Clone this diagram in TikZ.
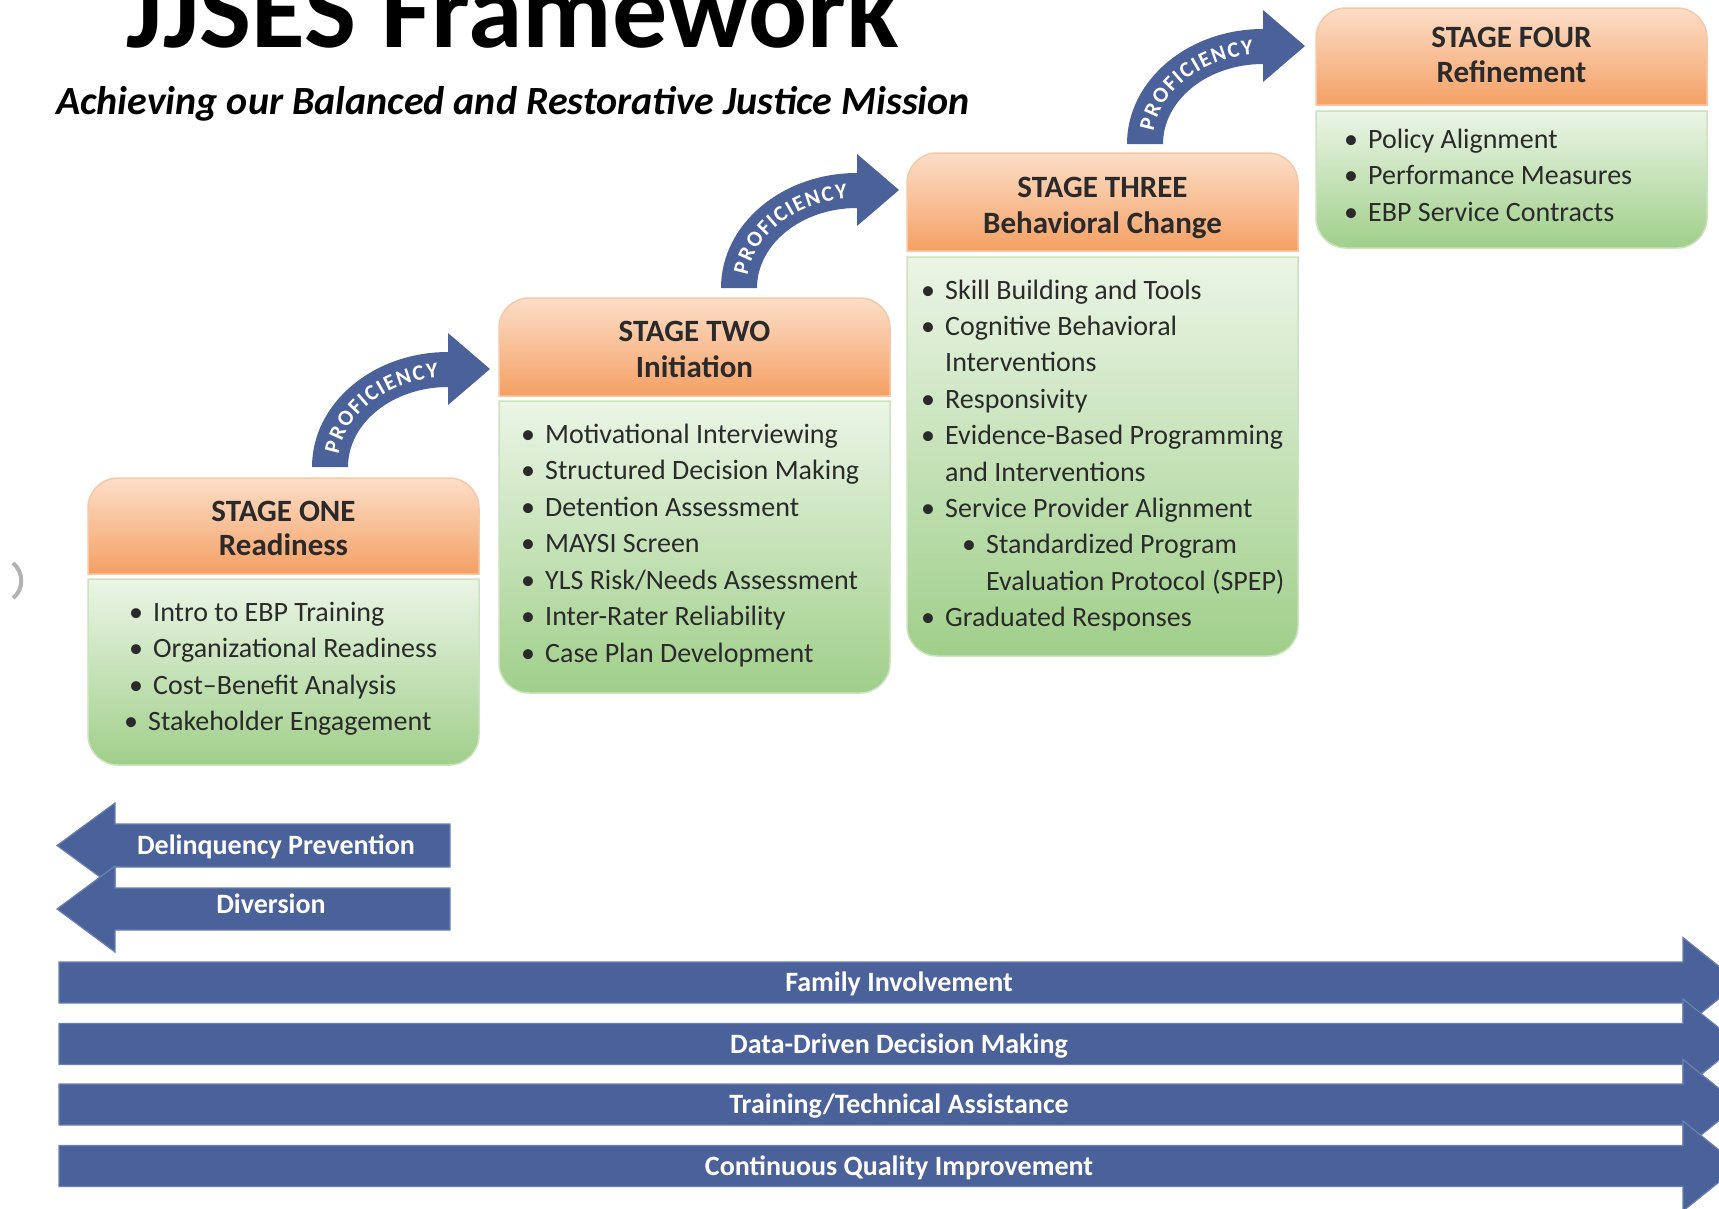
\documentclass[tikz,border=0pt]{standalone}
\usepackage{fontspec}
\setmainfont{Carlito}
\usetikzlibrary{decorations.text}
\definecolor{arrowblue}{HTML}{4A6199}
\definecolor{arrowedge}{HTML}{6A80B2}
\definecolor{orTop}{HTML}{FCDEC8}
\definecolor{orBot}{HTML}{F4A064}
\definecolor{orEdge}{HTML}{F8C8A6}
\definecolor{grTop}{HTML}{EBF5E6}
\definecolor{grBot}{HTML}{A0CF8A}
\definecolor{grEdge}{HTML}{CBE4BE}
\definecolor{txt}{HTML}{2A2A2A}
\tikzset{
  hdr/.style={anchor=base, inner sep=0pt, text=txt, font=\fontsize{31}{31}\selectfont\bfseries},
  itm/.style={anchor=base west, inner sep=0pt, text=txt, font=\fontsize{28}{28}\selectfont},
  bandtext/.style={anchor=base, inner sep=0pt, text=white, font=\fontsize{28}{28}\selectfont\bfseries},
  bluearrow/.style={fill=arrowblue, draw=arrowedge, line width=1.2pt},
  orhead/.style={top color=orTop, bottom color=orBot, draw=orEdge, line width=1.5pt},
  grbody/.style={top color=grTop, bottom color=grBot, draw=grEdge, line width=1.5pt},
}
\newcommand\bul{\makebox[24pt][l]{•}}
% #1 left x, #2 top, #3 orange bottom, #4 green top, #5 bottom
\newcommand\stagebox[5]{%
  \path[orhead] (#1,#3) -- (#1,{#2+30}) arc[start angle=180,end angle=270,radius=30]
     -- ({#1+391-30},#2) arc[start angle=270,end angle=360,radius=30] -- ({#1+391},#3) -- cycle;
  \path[grbody] (#1,#4) -- ({#1+391},#4) -- ({#1+391},{#5-30}) arc[start angle=0,end angle=90,radius=30]
     -- ({#1+30},#5) arc[start angle=90,end angle=180,radius=30] -- cycle;
}
% curved PROFICIENCY arrow, #1,#2 = centre of the quarter ellipse
\newcommand\profarrow[2]{%
  \path[fill=arrowblue] ({#1-136},#2) .. controls ({#1-136},{#2-63.5}) and ({#1-75.1},{#2-115}) .. (#1,{#2-115})
     -- (#1,{#2-134}) -- ({#1+42},{#2-98}) -- (#1,{#2-62}) -- (#1,{#2-80})
     .. controls ({#1-55.2},{#2-80}) and ({#1-100},{#2-44.2}) .. ({#1-100},#2) -- cycle;
  \path[decorate, decoration={text along path, text color=white, text align={fit to path},
     text={|\fontsize{22}{22}\selectfont\bfseries|PROFICIENCY}}]
     ({#1+110.5*cos(188)},{#2+90*sin(188)}) arc[start angle=188,end angle=265,x radius=110.5,y radius=90];
}
% long right arrow: #1 centre y, #2 name, #3 label
\newcommand\longarrow[3]{%
  \path[bluearrow] (59,{#1-20.5}) -- (1683,{#1-20.5}) -- (1683,{#1-45}) -- (1739,#1) -- (1683,{#1+45}) -- (1683,{#1+20.5}) -- (59,{#1+20.5}) -- cycle;
  \node[bandtext] (#2) at (899,{#1+9}) {#3};
}
\begin{document}
\begin{tikzpicture}[x=1pt,y=-1pt]
\useasboundingbox (0,0) rectangle (1719,1208);
\fill[white] (0,0) rectangle (1719,1208);

% title
\node[anchor=base, inner sep=0pt, font=\fontsize{110}{110}\selectfont\bfseries] (title) at (513,47) {JJSES Framework};
\node[anchor=base, inner sep=0pt, font=\fontsize{40}{40}\selectfont\bfseries\itshape] (subtitle) at (513,114) {Achieving our Balanced and Restorative Justice Mission};

% stray fragment at left edge
\draw[gray!60, line width=4pt] (13,563) .. controls (24,572) and (24,590) .. (13,598);

% stage boxes
\stagebox{88}{478}{574}{579}{765}
\stagebox{499}{298}{396}{401}{693}
\stagebox{907}{153}{251}{257}{656}
\stagebox{1316}{8}{105}{111}{248}

% proficiency arrows
\coordinate (pa1) at (448,467);
\coordinate (pa2) at (857,288);
\coordinate (pa3) at (1263,144);
\profarrow{448}{467}
\profarrow{857}{288}
\profarrow{1263}{144}

% stage one
\node[hdr] (s1t) at (283.5,521) {STAGE ONE};
\node[hdr] (s1n) at (283.5,555) {Readiness};
\node[itm] (s1a) at (129,621) {\bul Intro to EBP Training};
\node[itm] (s1b) at (129,657.5) {\bul Organizational Readiness};
\node[itm] (s1c) at (129,694) {\bul Cost--Benefit Analysis};
\node[itm] (s1d) at (124,730.5) {\bul Stakeholder Engagement};

% stage two
\node[hdr] (s2t) at (694.5,341) {STAGE TWO};
\node[hdr] (s2n) at (694.5,377) {Initiation};
\node[itm] (s2a) at (521,443) {\bul Motivational Interviewing};
\node[itm] (s2b) at (521,479.5) {\bul Structured Decision Making};
\node[itm] (s2c) at (521,516) {\bul Detention Assessment};
\node[itm] (s2d) at (521,552.5) {\bul MAYSI Screen};
\node[itm] (s2e) at (521,589) {\bul YLS Risk/Needs Assessment};
\node[itm] (s2f) at (521,625.5) {\bul Inter-Rater Reliability};
\node[itm] (s2g) at (521,662) {\bul Case Plan Development};

% stage three
\node[hdr] (s3t) at (1102.5,197) {STAGE THREE};
\node[hdr] (s3n) at (1102.5,233) {Behavioral Change};
\node[itm] (s3a) at (921,299) {\bul Skill Building and Tools};
\node[itm] (s3b) at (921,335.4) {\bul Cognitive Behavioral};
\node[itm] (s3c) at (945,371.8) {Interventions};
\node[itm] (s3d) at (921,408.2) {\bul Responsivity};
\node[itm] (s3e) at (921,444.6) {\bul Evidence-Based Programming};
\node[itm] (s3f) at (945,481) {and Interventions};
\node[itm] (s3g) at (921,517.4) {\bul Service Provider Alignment};
\node[itm] (s3h) at (962,553.8) {\bul Standardized Program};
\node[itm] (s3i) at (986,590.2) {Evaluation Protocol (SPEP)};
\node[itm] (s3j) at (921,626.6) {\bul Graduated Responses};

% stage four
\node[hdr] (s4t) at (1511.5,47) {STAGE FOUR};
\node[hdr] (s4n) at (1511.5,82) {Refinement};
\node[itm] (s4a) at (1344,148) {\bul Policy Alignment};
\node[itm] (s4b) at (1344,184.5) {\bul Performance Measures};
\node[itm] (s4c) at (1344,221) {\bul EBP Service Contracts};

% left arrows
\path[bluearrow] (450,824) -- (115,824) -- (115,803) -- (57,845.5) -- (115,888) -- (115,867) -- (450,867) -- cycle;
\node[bandtext] (delinq) at (276,854) {Delinquency Prevention};
\path[bluearrow] (450,888) -- (115,888) -- (115,866) -- (57,909) -- (115,952) -- (115,930) -- (450,930) -- cycle;
\node[bandtext] (divers) at (271,913) {Diversion};

% long right arrows
\longarrow{982.5}{fam}{Family Involvement}
\longarrow{1044}{data}{Data-Driven Decision Making}
\longarrow{1104.5}{train}{Training/Technical Assistance}
\longarrow{1166}{cqi}{Continuous Quality Improvement}
\end{tikzpicture}
\end{document}
